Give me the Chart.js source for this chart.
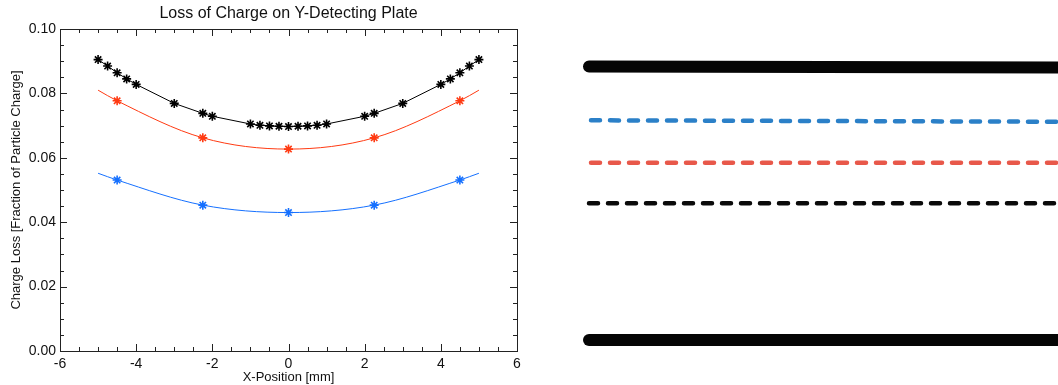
<!DOCTYPE html>
<html>
<head>
<meta charset="utf-8">
<script src="https://cdn.jsdelivr.net/npm/chart.js@4.4.0/dist/chart.umd.min.js"></script>
<style>
  body { margin: 0; background: #fff; width: 1058px; height: 385px; overflow: hidden; position: relative; }
  #lossWrap { position: absolute; left: 0; top: 0; width: 540px; height: 385px; }
  #sideWrap { position: absolute; left: 560px; top: 0; width: 498px; height: 385px; }
</style>
</head>
<body>
<div id="lossWrap"><canvas id="lossChart" width="540" height="385"></canvas></div>
<div id="sideWrap"><canvas id="sideChart" width="498" height="385"></canvas></div>
<script>
// Loss of charge on Y-detecting plate

// measured points, black series (dense scan)
const blackX = [-5, -4.75, -4.5, -4.25, -4, -3, -2.25, -2, -1, -0.75, -0.5, -0.25, 0,
                0.25, 0.5, 0.75, 1, 2, 2.25, 3, 4, 4.25, 4.5, 4.75, 5];
const blackY = [0.0905, 0.0885, 0.0864, 0.0845, 0.0828, 0.0769, 0.0738, 0.0729, 0.0705, 0.0701, 0.0699, 0.0698, 0.0697,
                0.0698, 0.0699, 0.0701, 0.0705, 0.0729, 0.0738, 0.0769, 0.0828, 0.0845, 0.0864, 0.0885, 0.0905];

// measured points, red and blue series
const sparseX = [-4.5, -2.25, 0, 2.25, 4.5];
const redY = [0.0777, 0.0662, 0.0627, 0.0662, 0.0777];
const blueY = [0.0531, 0.0453, 0.0430, 0.0453, 0.0531];

// fitted curves
const fitX = [-5, -4.5, -2.25, 0, 2.25, 4.5, 5];
const redFitY = [0.0810, 0.0777, 0.0662, 0.0627, 0.0662, 0.0777, 0.0810];
const blueFitY = [0.0552, 0.0531, 0.0453, 0.0430, 0.0453, 0.0531, 0.0552];

// axis setup
const xRange = [-6, 6];
const yRange = [0, 0.1];
const xMinorStep = 0.5;
const yMinorStep = 0.005;

// strokes on the right-hand panel (x from, x to, level left, level right)
const sideFromX = [29, 31, 31, 29, 29];
const sideToX = [520, 520, 520, 520, 520];
const sideLeftLevel = [66.5, 120.3, 162.7, 203.3, 340];
const sideRightLevel = [67.6, 121.8, 162.7, 203.3, 340];
const sideColors = ['#050505', '#2b80c8', '#e8584a', '#0a0a0a', '#050505'];
const sideWidths = [12, 4.5, 4.5, 4.5, 12];
const sideDashed = [false, true, true, true, false];

const FONT = "'Liberation Sans', Arial, Helvetica, sans-serif";
const RED = '#ff3a12';
const BLUE = '#1570ff';

function pts(xs, ys) {
    return xs.map((x, i) => ({ x: x, y: ys[i] }));
}

// IDL style frame with inward ticks on all four sides
const framePlugin = {
    id: 'frame',
    afterDraw(chart) {
        const ctx = chart.ctx;
        const a = chart.chartArea;
        const xs = chart.scales.x;
        const ys = chart.scales.y;
        ctx.save();
        ctx.strokeStyle = '#222';
        ctx.lineWidth = 1;
        ctx.strokeRect(a.left + 0.5, a.top + 0.5, a.right - a.left, a.bottom - a.top);

        ctx.beginPath();
        for (let v = xRange[0]; v <= xRange[1] + 1e-9; v += xMinorStep) {
            const major = Math.abs(v / 2 - Math.round(v / 2)) < 1e-6;
            const len = major ? 7 : 4;
            const px = Math.round(xs.getPixelForValue(v)) + 0.5;
            ctx.moveTo(px, a.bottom); ctx.lineTo(px, a.bottom - len);
            ctx.moveTo(px, a.top); ctx.lineTo(px, a.top + len);
        }
        for (let v = yRange[0]; v <= yRange[1] + 1e-9; v += yMinorStep) {
            const major = Math.abs(v / 0.02 - Math.round(v / 0.02)) < 1e-6;
            const len = major ? 7 : 4;
            const py = Math.round(ys.getPixelForValue(v)) + 0.5;
            ctx.moveTo(a.left, py); ctx.lineTo(a.left + len, py);
            ctx.moveTo(a.right, py); ctx.lineTo(a.right - len, py);
        }
        ctx.stroke();

        ctx.fillStyle = '#111';
        ctx.font = '16px ' + FONT;
        ctx.textAlign = 'center';
        ctx.textBaseline = 'middle';
        ctx.fillText('Loss of Charge on Y-Detecting Plate', (a.left + a.right) / 2, 14);
        ctx.restore();
    }
};

function createLossChart() {
    const ctx = document.getElementById('lossChart');
    new Chart(ctx.getContext('2d'), {
        type: 'scatter',
        data: {
            datasets: [
                {
                    data: pts(fitX, blueFitY),
                    showLine: true,
                    borderColor: BLUE,
                    borderWidth: 1,
                    pointRadius: 0,
                    cubicInterpolationMode: 'monotone'
                },
                {
                    data: pts(fitX, redFitY),
                    showLine: true,
                    borderColor: RED,
                    borderWidth: 1,
                    pointRadius: 0,
                    cubicInterpolationMode: 'monotone'
                },
                {
                    data: pts(sparseX, blueY),
                    showLine: false,
                    pointStyle: 'star',
                    pointRadius: 4.5,
                    borderColor: BLUE,
                    pointBorderWidth: 1.6
                },
                {
                    data: pts(sparseX, redY),
                    showLine: false,
                    pointStyle: 'star',
                    pointRadius: 4.5,
                    borderColor: RED,
                    pointBorderWidth: 1.6
                },
                {
                    data: pts(blackX, blackY),
                    showLine: true,
                    borderColor: '#000',
                    borderWidth: 1,
                    pointStyle: 'star',
                    pointRadius: 4.5,
                    pointBorderWidth: 1.6,
                    tension: 0
                }
            ]
        },
        options: {
            responsive: false,
            animation: false,
            layout: { padding: { top: 29, right: 23, left: 0, bottom: 0 } },
            plugins: {
                legend: { display: false },
                tooltip: { enabled: false },
                title: { display: false }
            },
            scales: {
                x: {
                    type: 'linear',
                    min: xRange[0],
                    max: xRange[1],
                    grid: { display: false, drawTicks: false, tickLength: 0 },
                    border: { display: false },
                    ticks: {
                        stepSize: 2,
                        padding: 5,
                        color: '#111',
                        font: { family: FONT, size: 14 },
                        maxRotation: 0
                    },
                    title: {
                        display: true,
                        text: 'X-Position [mm]',
                        color: '#111',
                        font: { family: FONT, size: 13 },
                        padding: { top: 0, bottom: 0 }
                    },
                    afterFit(scale) { scale.height = 34; }
                },
                y: {
                    min: yRange[0],
                    max: yRange[1],
                    grid: { display: false, drawTicks: false, tickLength: 0 },
                    border: { display: false },
                    ticks: {
                        stepSize: 0.02,
                        padding: 4,
                        color: '#111',
                        font: { family: FONT, size: 14 },
                        callback: v => v.toFixed(2)
                    },
                    title: {
                        display: true,
                        text: 'Charge Loss [Fraction of Particle Charge]',
                        color: '#111',
                        font: { family: FONT, size: 13 },
                        padding: { top: 9, bottom: 0 }
                    },
                    afterFit(scale) { scale.width = 60; }
                }
            }
        },
        plugins: [framePlugin]
    });
}

function createSideChart() {
    const ctx = document.getElementById('sideChart');
    const datasets = sideFromX.map((x0, i) => ({
        data: [{ x: x0, y: sideLeftLevel[i] }, { x: sideToX[i], y: sideRightLevel[i] }],
        showLine: true,
        borderColor: sideColors[i],
        borderWidth: sideWidths[i],
        borderCapStyle: 'round',
        borderDash: sideDashed[i] ? [9, 10] : [],
        pointRadius: 0,
        clip: false
    }));
    new Chart(ctx.getContext('2d'), {
        type: 'scatter',
        data: { datasets: datasets },
        options: {
            responsive: false,
            animation: false,
            layout: { padding: 0 },
            plugins: { legend: { display: false }, tooltip: { enabled: false } },
            scales: {
                x: { type: 'linear', min: 0, max: 498, display: false },
                y: { min: 0, max: 385, reverse: true, display: false }
            }
        }
    });
}

document.addEventListener('DOMContentLoaded', function() {
    if (typeof Chart !== 'undefined') {
        createLossChart();
        createSideChart();
    }
});
</script>
</body>
</html>
